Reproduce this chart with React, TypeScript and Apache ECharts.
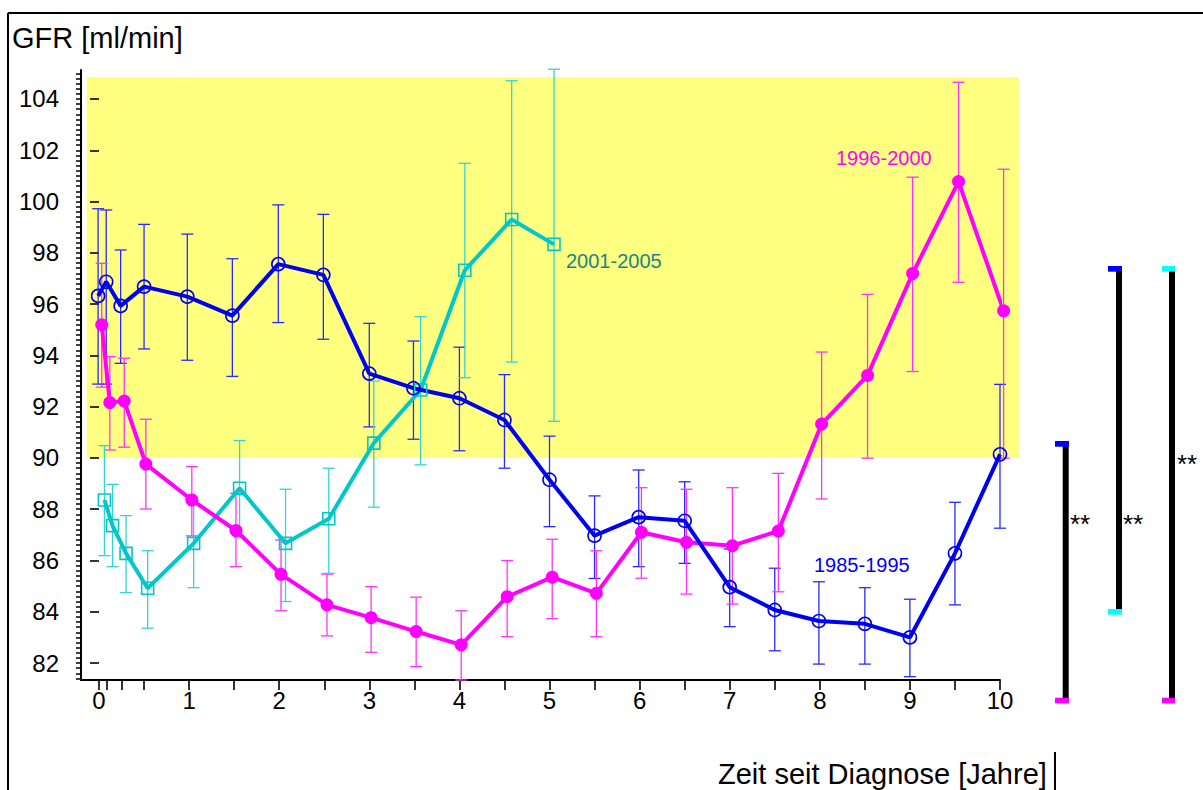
import React, { useEffect, useRef } from "react";
import * as echarts from "echarts";

// ---- Data ----
// 1985-1995 (blue, open circles)
const blueX = [-0.01, 0.08, 0.24, 0.5, 0.98, 1.48, 1.99, 2.49, 3.0, 3.49, 4.0, 4.5, 5.0, 5.5, 5.99, 6.5, 7.0, 7.5, 7.99, 8.5, 9.0, 9.5, 10.0];
const blueMean = [96.32, 96.87, 95.93, 96.68, 96.29, 95.55, 97.56, 97.14, 93.29, 92.72, 92.33, 91.48, 89.15, 86.97, 87.69, 87.55, 84.96, 84.07, 83.64, 83.53, 83.0, 86.28, 90.14];
const blueHigh = [99.72, 99.67, 98.11, 99.11, 98.73, 97.77, 99.87, 99.5, 95.25, 94.56, 94.32, 93.25, 90.85, 88.52, 89.53, 89.07, 86.45, 85.7, 85.17, 84.94, 84.49, 88.27, 92.87];
const blueLow = [92.88, 92.88, 93.69, 94.25, 93.81, 93.18, 95.28, 94.63, 91.21, 90.73, 90.28, 89.6, 87.32, 85.3, 85.76, 85.89, 83.42, 82.48, 81.96, 81.96, 81.47, 84.27, 87.26];

// 1996-2000 (magenta, filled circles)
const pinkX = [0.03, 0.12, 0.28, 0.52, 1.03, 1.52, 2.02, 2.53, 3.02, 3.52, 4.02, 4.53, 5.03, 5.52, 6.02, 6.52, 7.03, 7.54, 8.02, 8.53, 9.03, 9.54, 10.04];
const pinkMean = [95.19, 92.16, 92.22, 89.76, 88.36, 87.17, 85.46, 84.27, 83.77, 83.23, 82.71, 84.59, 85.35, 84.72, 87.1, 86.71, 86.58, 87.15, 91.32, 93.22, 97.19, 100.78, 95.74];
const pinkHigh = [97.59, 93.95, 93.89, 91.51, 89.66, 88.62, 86.8, 85.47, 84.98, 84.57, 84.04, 86.0, 86.83, 86.38, 88.84, 88.78, 88.84, 89.4, 94.13, 96.38, 100.95, 104.65, 101.26];
const pinkLow = [92.76, 90.31, 90.42, 88.01, 86.96, 85.76, 84.04, 83.06, 82.42, 81.86, 81.34, 83.03, 83.73, 83.03, 85.31, 84.69, 84.3, 84.78, 88.4, 89.99, 93.37, 96.85, 89.99];

// 2001-2005 (cyan, open squares)
const cyanX = [0.06, 0.15, 0.3, 0.54, 1.05, 1.56, 2.07, 2.55, 3.05, 3.57, 4.06, 4.58, 5.05];
const cyanMean = [88.36, 87.36, 86.28, 84.92, 86.67, 88.82, 86.67, 87.63, 90.58, 92.65, 97.32, 99.3, 98.33];
const cyanHigh = [90.48, 88.97, 87.75, 86.38, 88.33, 90.68, 88.78, 89.6, 93.0, 95.51, 101.49, 104.71, 105.16];
const cyanLow = [86.19, 85.76, 84.75, 83.36, 84.94, 86.9, 84.4, 85.5, 88.08, 89.73, 93.13, 93.74, 91.43];

// axes
const xTickValues = [0, 0.083, 0.25, 0.5, 1, 1.5, 2, 2.5, 3, 3.5, 4, 4.5, 5, 5.5, 6, 6.5, 7, 7.5, 8, 8.5, 9, 9.5, 10];
const xLabelValues = [0, 1, 2, 3, 4, 5, 6, 7, 8, 9, 10];
const yLabelValues = [82, 84, 86, 88, 90, 92, 94, 96, 98, 100, 102, 104];
const yMin = 81.34;
const yMax = 105.13;
const xMin = -0.2;
const xMax = 10;

// reference band (yellow)
const bandX = [-0.137, 10.21];
const bandY = [90, 104.86];

const FONT = '"Liberation Sans", Arial, Helvetica, sans-serif';
const BLUE = "#0000f0";
const PINK = "#ff00ff";
const CYAN = "#00c8c8";

function minorTicks(): number[] {
  const out: number[] = [];
  for (let i = Math.ceil(yMin * 5); i <= Math.floor(yMax * 5); i++) out.push(Math.round(i * 20) / 100);
  return out;
}

function errSeries(name: string, xs: number[], lo: number[], hi: number[], color: string) {
  return {
    type: "custom",
    name,
    xAxisIndex: 0,
    yAxisIndex: 0,
    z: 2,
    clip: false,
    silent: true,
    data: xs.map((x, i) => [x, lo[i], hi[i]]),
    renderItem: (params: any, api: any) => {
      const x = api.value(0);
      const a = api.coord([x, api.value(1)]);
      const b = api.coord([x, api.value(2)]);
      const w = 6;
      const st = () => ({ stroke: color, lineWidth: 1.3 });
      return {
        type: "group",
        children: [
          { type: "line", shape: { x1: a[0], y1: a[1], x2: b[0], y2: b[1] }, style: st() },
          { type: "line", shape: { x1: b[0] - w, y1: b[1], x2: b[0] + w, y2: b[1] }, style: st() },
          { type: "line", shape: { x1: a[0] - w, y1: a[1], x2: a[0] + w, y2: a[1] }, style: st() },
        ],
      };
    },
  };
}

function lineSeries(name: string, xs: number[], ys: number[], color: string, symbol: string, size: number, filled: boolean) {
  return {
    type: "line",
    name,
    xAxisIndex: 0,
    yAxisIndex: 0,
    z: 3,
    clip: false,
    data: xs.map((x, i) => [x, ys[i]]),
    symbol,
    symbolSize: size,
    showSymbol: true,
    lineStyle: { color, width: 4 },
    itemStyle: filled
      ? { color, borderColor: color, borderWidth: 0 }
      : { color: "rgba(0,0,0,0)", borderColor: color, borderWidth: 1.6 },
    emphasis: { disabled: true },
  };
}

export default function App() {
  const ref = useRef<HTMLDivElement>(null);
  useEffect(() => {
    if (!ref.current) return;
    const chart = echarts.init(ref.current, undefined, { renderer: "svg" });
    const labelFont = { fontFamily: FONT, fontSize: 24, color: "#000" };
    const txt = (x: number, y: number, text: string, size: number, fill: string) => ({
      type: "text",
      x,
      y,
      z: 100,
      style: { text, fontFamily: FONT, fontSize: size, fill, verticalAlign: "middle" },
    });
    const rect = (x: number, y: number, w: number, h: number, fill: string) => ({
      type: "rect",
      z: 100,
      shape: { x, y, width: w, height: h },
      style: { fill },
    });
    const option: any = {
      animation: false,
      backgroundColor: "#fff",
      grid: { left: 81, right: 203, top: 70, bottom: 110, containLabel: false },
      xAxis: [
        {
          type: "value",
          min: xMin,
          max: xMax,
          axisLine: { show: true, onZero: false, lineStyle: { color: "#000", width: 2 } },
          axisTick: { show: true, length: 10, customValues: xTickValues, lineStyle: { color: "#000", width: 1.6 } },
          axisLabel: { ...labelFont, margin: 8, customValues: xLabelValues },
          splitLine: { show: false },
        },
      ],
      yAxis: [
        {
          type: "value",
          min: yMin,
          max: yMax,
          position: "left",
          axisLine: { show: true, onZero: false, lineStyle: { color: "#000", width: 2 } },
          axisTick: { show: true, length: 5, customValues: minorTicks(), lineStyle: { color: "#000", width: 1.5 } },
          axisLabel: { show: false },
          splitLine: { show: false },
        },
        {
          type: "value",
          min: yMin,
          max: yMax,
          position: "left",
          axisLine: { show: false },
          axisTick: { show: true, length: 9, customValues: yLabelValues, lineStyle: { color: "#000", width: 1.6 } },
          axisLabel: { ...labelFont, margin: 22, customValues: yLabelValues },
          splitLine: { show: false },
        },
      ],
      series: [
        {
          type: "custom",
          name: "band",
          xAxisIndex: 0,
          yAxisIndex: 0,
          z: 0,
          clip: false,
          silent: true,
          data: [[bandX[0], bandX[1], bandY[0], bandY[1]]],
          renderItem: (params: any, api: any) => {
            const p0 = api.coord([api.value(0), api.value(3)]);
            const p1 = api.coord([api.value(1), api.value(2)]);
            return {
              type: "rect",
              shape: { x: p0[0], y: p0[1], width: p1[0] - p0[0], height: p1[1] - p0[1] },
              style: { fill: "#ffff80" },
            };
          },
        },
        errSeries("e1", blueX, blueLow, blueHigh, "#2a2aff"),
        errSeries("e2", pinkX, pinkLow, pinkHigh, "#ff33ff"),
        errSeries("e3", cyanX, cyanLow, cyanHigh, "#33d4d4"),
        lineSeries("2001-2005", cyanX, cyanMean, CYAN, "rect", 12, false),
        lineSeries("1996-2000", pinkX, pinkMean, PINK, "circle", 13, true),
        lineSeries("1985-1995", blueX, blueMean, BLUE, "circle", 13, false),
      ],
      graphic: [
        { type: "line", z: 100, shape: { x1: 8, y1: 13, x2: 1203, y2: 13 }, style: { stroke: "#000", lineWidth: 2 } },
        { type: "line", z: 100, shape: { x1: 8, y1: 13, x2: 8, y2: 790 }, style: { stroke: "#000", lineWidth: 2 } },
        { type: "line", z: 100, shape: { x1: 1055, y1: 752, x2: 1055, y2: 790 }, style: { stroke: "#000", lineWidth: 2 } },
        txt(12, 38, "GFR [ml/min]", 29, "#000"),
        txt(718, 774, "Zeit seit Diagnose [Jahre]", 29, "#000"),
        txt(566, 261, "2001-2005", 20, "#168686"),
        txt(836, 158, "1996-2000", 20, PINK),
        txt(814, 565, "1985-1995", 20, BLUE),
        // significance bars
        rect(1062.7, 444, 6, 256, "#000"),
        rect(1055, 441, 14, 5.7, "#0000ff"),
        rect(1055, 697.7, 14, 5.7, PINK),
        txt(1070, 524, "**", 26, "#000"),

        rect(1116, 269, 6, 343, "#000"),
        rect(1108, 266, 14, 5.7, "#0000ff"),
        rect(1108, 609, 14, 5.7, "#00ffff"),
        txt(1123, 524, "**", 26, "#000"),

        rect(1169, 269, 6, 431, "#000"),
        rect(1162, 266, 13, 5.7, "#00ffff"),
        rect(1162, 697.7, 13, 5.7, PINK),
        txt(1177, 464, "**", 26, "#000"),
      ],
    };
    chart.setOption(option);
    return () => chart.dispose();
  }, []);
  return (
    <div
      ref={ref}
      style={{ position: "fixed", left: 0, top: 0, width: 1203, height: 790, background: "#fff" }}
    />
  );
}
